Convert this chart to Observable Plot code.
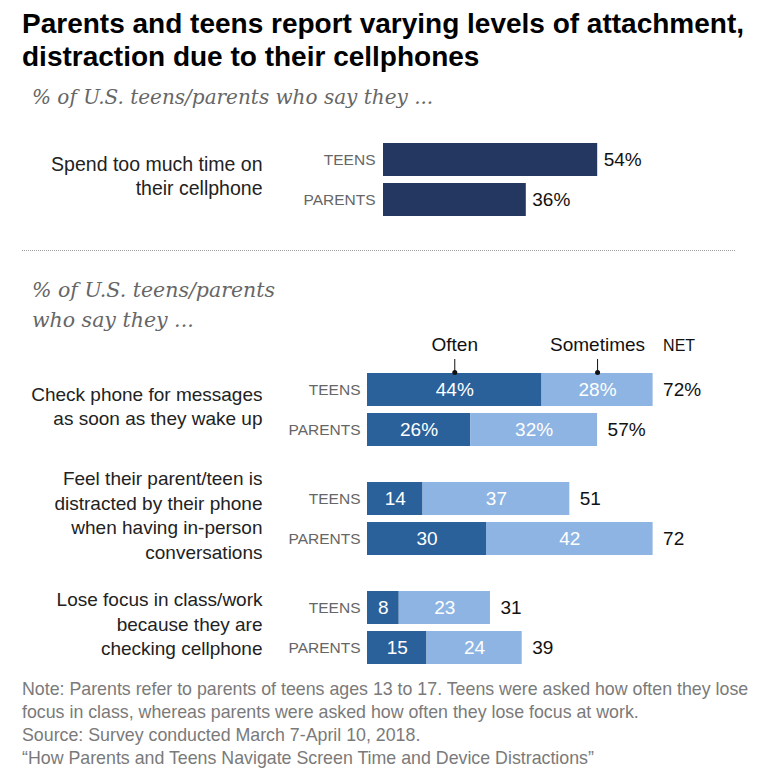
<!DOCTYPE html>
<html>
<head>
<meta charset="utf-8">
<script src="https://cdn.jsdelivr.net/npm/d3@7"></script>
<script src="https://cdn.jsdelivr.net/npm/@observablehq/plot@0.6"></script>
<style>
  body { margin: 0; background: #fff; width: 779px; height: 779px; position: relative; overflow: hidden;
         font-family: "Liberation Sans", Arial, sans-serif; }
  .abs { position: absolute; }
  #title { left: 22px; top: 7px; font-weight: bold; font-size: 28px; line-height: 33px; color: #000; white-space: nowrap; }
  .sub { left: 32px; font-family: "DejaVu Serif", serif; font-style: italic; color: #666; white-space: nowrap; }
  #sub1 { top: 85px; font-size: 20px; line-height: 24px; }
  #sub2 { top: 276px; font-size: 20.5px; line-height: 29.5px; }
  #sep { left: 22px; width: 713px; top: 250px; border-top: 1.5px dotted #a0a0a0; }
  #note { left: 22px; top: 678px; font-size: 17.8px; line-height: 23px; color: #7a7a7a; white-space: nowrap; }
  .chart { left: 0; }
</style>
</head>
<body>
<div id="title" class="abs">Parents and teens report varying levels of attachment,<br>distraction due to their cellphones</div>
<div id="sub1" class="abs sub">% of U.S. teens/parents who say they ...</div>
<div id="sep" class="abs"></div>
<div id="sub2" class="abs sub">% of U.S. teens/parents<br>who say they ...</div>
<div id="bottomChart" class="abs chart" style="top:361px"></div>
<div id="headChart" class="abs chart" style="top:330px"></div>
<div id="topChart" class="abs chart" style="top:120px"></div>
<div id="note" class="abs">Note: Parents refer to parents of teens ages 13 to 17. Teens were asked how often they lose<br>focus in class, whereas parents were asked how often they lose focus at work.<br>Source: Survey conducted March 7-April 10, 2018.<br>“How Parents and Teens Navigate Screen Time and Device Distractions”</div>
<script>
// Respondent groups shown in every panel
const rows = ["TEENS", "PARENTS"];

// Panel 1: spend too much time on their cellphone (%)
const spendLabel = "Spend too much time on\ntheir cellphone";
const spendValues = [54, 36];

// Panel 2: frequency questions, TEENS then PARENTS for each item (%)
const items = [
  "Check phone for messages\nas soon as they wake up",
  "Feel their parent/teen is\ndistracted by their phone\nwhen having in-person\nconversations",
  "Lose focus in class/work\nbecause they are\nchecking cellphone"
];
const types = ["Often", "Sometimes"];
const often     = [44, 26, 14, 30, 8, 15];
const sometimes = [28, 32, 37, 42, 23, 24];
const net       = [72, 57, 51, 72, 31, 39];

const font = "'Liberation Sans', Arial, sans-serif";
const navy = "#233761";
const colors = ["#2a619b", "#8db4e2"];

// First item carries a % sign, the rest show bare numbers
const fmt = (v, item) => (item === undefined || item === items[0]) ? v + "%" : String(v);

// ---- Panel 1 ----
const spend = rows.map((r, i) => ({row: r, value: spendValues[i]}));
const topPlot = Plot.plot({
  width: 779, height: 110,
  marginLeft: 383, marginRight: 39, marginTop: 22, marginBottom: 13,
  style: {fontFamily: font, background: "transparent", overflow: "visible"},
  x: {domain: [0, 90], axis: null},
  y: {domain: rows, axis: null, paddingInner: 0.17, paddingOuter: 0},
  marks: [
    Plot.barX(spend, {x: "value", y: "row", fill: navy}),
    Plot.text(spend, {x: "value", y: "row", text: d => fmt(d.value), textAnchor: "start", dx: 6, fontSize: 19, fill: "#111"}),
    Plot.text(spend, {y: "row", frameAnchor: "left", text: "row", textAnchor: "end", dx: -8, fontSize: 15.5, fill: "#666"}),
    Plot.text([spendLabel], {frameAnchor: "left", text: d => d, textAnchor: "end", dx: -121, dy: -5, fontSize: 19.5, lineHeight: 1.28, fill: "#222"})
  ]
});
document.getElementById("topChart").appendChild(topPlot);

// ---- Panel 2 ----
const long = [];
const totals = [];
items.forEach((item, gi) => rows.forEach((row, ri) => {
  const i = gi * 2 + ri;
  long.push({item, row, type: types[0], value: often[i]});
  long.push({item, row, type: types[1], value: sometimes[i]});
  totals.push({item, row, end: often[i] + sometimes[i], net: net[i]});
}));

const xOpts = {domain: [0, 90], axis: null};

// Column headers with leaders pointing at the first bar's segments
const head = [
  {type: types[0], x: often[0] / 2},
  {type: types[1], x: often[0] + sometimes[0] / 2}
];
const headPlot = Plot.plot({
  width: 779, height: 42,
  marginLeft: 367, marginRight: 55, marginTop: 29, marginBottom: 0,
  style: {fontFamily: font, background: "transparent", overflow: "visible"},
  x: xOpts,
  marks: [
    Plot.ruleX(head, {x: "x", stroke: "#111", strokeWidth: 1}),
    Plot.dot(head, {x: "x", frameAnchor: "bottom", r: 2.5, fill: "#111", stroke: null}),
    Plot.text(head, {x: "x", frameAnchor: "top", text: "type", lineAnchor: "bottom", dy: -9, fontSize: 19, fill: "#111"}),
    Plot.text(["NET"], {x: often[0] + sometimes[0], frameAnchor: "top", text: d => d, textAnchor: "start", lineAnchor: "bottom", dx: 10, dy: -9, fontSize: 16, fill: "#111"})
  ]
});
document.getElementById("headChart").appendChild(headPlot);

const bottomPlot = Plot.plot({
  width: 779, height: 315,
  marginLeft: 367, marginRight: 55, marginTop: 10, marginBottom: 10,
  style: {fontFamily: font, background: "transparent", overflow: "visible"},
  x: xOpts,
  y: {domain: rows, axis: null, paddingInner: 0.17, paddingOuter: 0},
  fy: {domain: items, axis: null, paddingInner: 0.315, paddingOuter: 0},
  color: {domain: types, range: colors},
  marks: [
    Plot.barX(long, {x: "value", y: "row", fy: "item", fill: "type"}),
    Plot.text(long, Plot.stackX({x: "value", y: "row", fy: "item", z: "type", text: d => fmt(d.value, d.item), fontSize: 19, fill: "#fff"})),
    Plot.text(totals, {x: "end", y: "row", fy: "item", text: d => fmt(d.net, d.item), textAnchor: "start", dx: 10, fontSize: 19, fill: "#111"}),
    Plot.text(totals, {y: "row", fy: "item", frameAnchor: "left", text: "row", textAnchor: "end", dx: -7, fontSize: 15.5, fill: "#666"}),
    Plot.text(items, {fy: d => d, frameAnchor: "left", text: d => d, textAnchor: "end", dx: -105, dy: -5, fontSize: 19, lineHeight: 1.29, fill: "#222"})
  ]
});
document.getElementById("bottomChart").appendChild(bottomPlot);
</script>
</body>
</html>
